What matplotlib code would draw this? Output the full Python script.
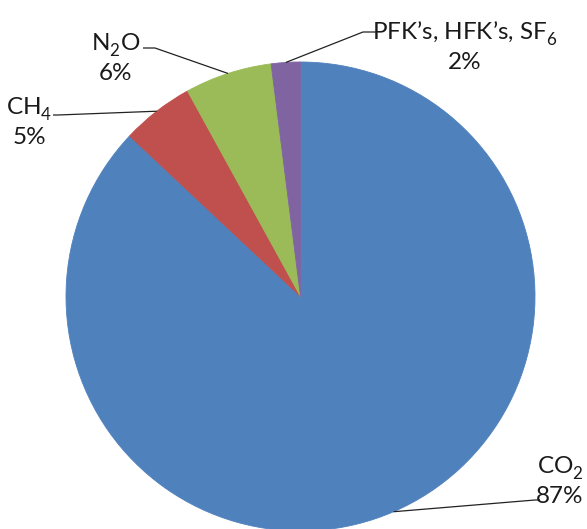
import numpy as np
import matplotlib
matplotlib.use("Agg")
import matplotlib.pyplot as plt

try:
    import matplotlib._mathtext as _mt
    _mt.FontConstantsBase.sub1 = 0.55
    _mt.FontConstantsBase.sub2 = 0.6
except Exception:
    pass

plt.rcParams['font.family'] = ['Lato', 'DejaVu Sans']
plt.rcParams['mathtext.fontset'] = 'custom'
plt.rcParams['mathtext.rm'] = 'Lato'
plt.rcParams['mathtext.it'] = 'Lato'

# Data
categories = ["CO$_\\mathrm{2}$", "CH$_\\mathrm{4}$", "N$_\\mathrm{2}$O",
              "PFK\u2019s, HFK\u2019s, SF$_\\mathrm{6}$"]
values = [87, 5, 6, 2]
colors = ["#4F81BD", "#C0504D", "#9BBB59", "#8064A2"]

W, H = 587, 529
fig = plt.figure(figsize=(W / 100, H / 100), dpi=100)
ax = fig.add_axes([0, 0, 1, 1])

cx, cy, r = 300.5, H - 296.5, 234.5
wedges, _ = ax.pie(values, colors=colors, startangle=90, counterclock=False,
                   center=(cx, cy), radius=r, frame=True,
                   wedgeprops=dict(linewidth=0.6))
for w, c in zip(wedges, colors):
    w.set_edgecolor(c)
ax.set_xlim(0, W)
ax.set_ylim(0, H)
ax.axis('off')

# label layout (pixel coords, y from top): text center, elbow points
label_pos = [(560, 481), (29, 122), (116, 58), (465, 46)]
elbows = [
    [(535, 500), (540, 500)],
    [(58, 115), (53, 115)],
    [(155, 48), (143, 48)],
    [(363, 32), (376, 32)],
]

for w, lab, v, (tx, ty), elb in zip(wedges, categories, values, label_pos, elbows):
    ang = np.deg2rad((w.theta1 + w.theta2) / 2)
    ex, ey = cx + r * np.cos(ang), cy + r * np.sin(ang)
    xs = [ex] + [p[0] for p in elb]
    ys = [ey] + [H - p[1] for p in elb]
    ax.plot(xs, ys, color="#222222", lw=0.9, solid_capstyle='butt')
    ax.text(tx, H - ty, f"{lab}\n{v}%", ha='center', va='center',
            fontsize=17.5, color="#1a1a1a", linespacing=1.25)

fig.savefig("out.png", dpi=100)
